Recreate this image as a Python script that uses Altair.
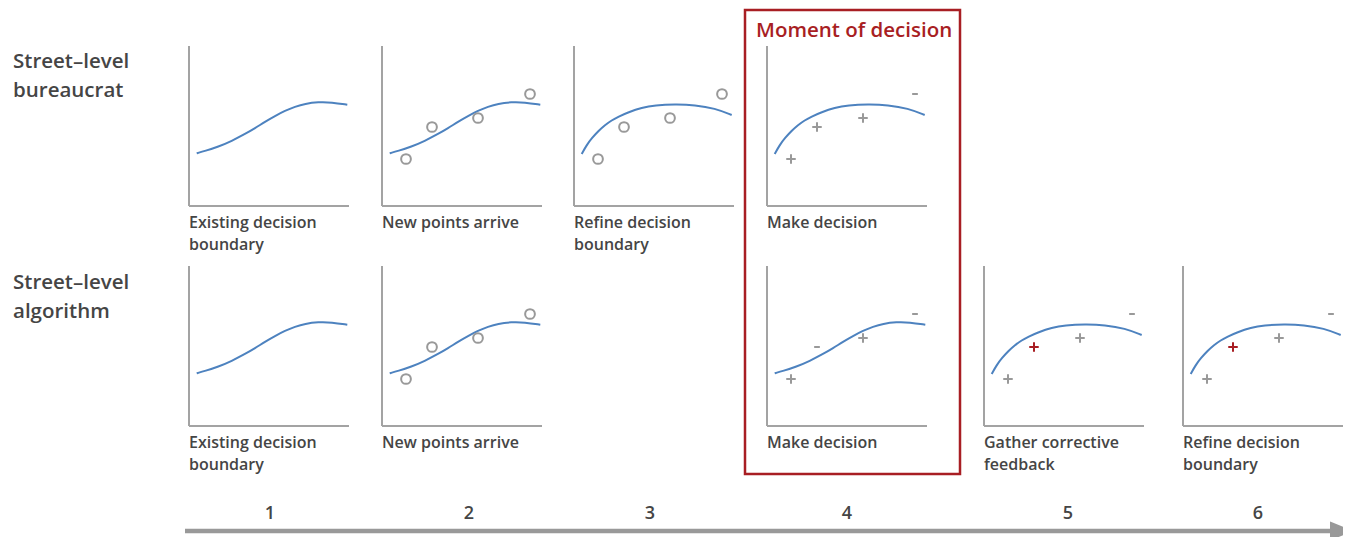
import altair as alt
import pandas as pd

# ---- data (local panel units: x from the y-axis, height above the x-axis) ----
curve_a_x = [7.7, 16, 29.3, 42.7, 56, 66, 76, 86, 96, 106, 116, 129.3, 142.7, 158.3]
curve_a_y = [52.7, 55, 59.3, 65, 72, 77.7, 84.3, 90, 95.3, 99.3, 102.3, 104, 103.7, 101.3]
curve_b_x = [7.7, 12.7, 17.7, 24.3, 31, 37.7, 44.3, 54.3, 67.7, 81, 101, 121, 141, 157.7]
curve_b_y = [52, 61, 67.7, 75, 81, 85.7, 89.3, 93.7, 98.3, 100.7, 101.7, 101, 97.7, 91]
point_x = [24, 50, 96, 148]
point_y = [47, 79, 88, 112]

panel_row = [1, 1, 1, 1, 2, 2, 2, 2, 2]
panel_step = [1, 2, 3, 4, 1, 2, 4, 5, 6]
panel_curve = ["A", "A", "B", "B", "A", "A", "A", "B", "B"]
panel_caption = [
    ["Existing decision", "boundary"],
    ["New points arrive"],
    ["Refine decision", "boundary"],
    ["Make decision"],
    ["Existing decision", "boundary"],
    ["New points arrive"],
    ["Make decision"],
    ["Gather corrective", "feedback"],
    ["Refine decision", "boundary"],
]
panel_marks = ["", "oooo", "oooo", "+++-", "", "oooo", "+-+-", "+R+-", "+R+-"]

row_labels = [["Street\u2013level", "bureaucrat"], ["Street\u2013level", "algorithm"]]
step_labels = ["1", "2", "3", "4", "5", "6"]
highlight_title = "Moment of decision"

# ---- layout (page pixels) ----
W, H = 1351, 537
step_origin_x = {1: 189, 2: 382, 3: 574, 4: 767, 5: 984, 6: 1183}
row_base_y = {1: 206, 2: 426}
row_label_y = {1: 68, 2: 289}
step_label_x = [270, 469, 650, 847, 1068, 1258]
PS = 160
FONT = "Open Sans"

TEXT = "#454545"
GREY = "#a3a3a3"
MGREY = "#999999"
BLUE = "#4d82bf"
RED = "#a81e23"

curve_rows, axis_rows, mark_rows, cap_rows = [], [], [], []
for i in range(len(panel_row)):
    ox = step_origin_x[panel_step[i]]
    by = row_base_y[panel_row[i]]
    cx, cy = (curve_a_x, curve_a_y) if panel_curve[i] == "A" else (curve_b_x, curve_b_y)
    for k, (a, b) in enumerate(zip(cx, cy)):
        curve_rows.append({"panel": i, "order": k, "x": ox + a, "y": by - b})
    axis_rows.append({"x": ox, "x2": ox, "y": by - PS, "y2": by})
    axis_rows.append({"x": ox, "x2": ox + PS, "y": by, "y2": by})
    for k, m in enumerate(panel_marks[i]):
        mark_rows.append({"kind": m, "x": ox + point_x[k], "y": by - point_y[k]})
    for j, line in enumerate(panel_caption[i]):
        cap_rows.append({"x": ox, "y": by + 22 + 22 * j, "text": line})

curves = pd.DataFrame(curve_rows)
axes_df = pd.DataFrame(axis_rows)
marks = pd.DataFrame(mark_rows)
caps = pd.DataFrame(cap_rows)

rl_rows = []
for r, lines in enumerate(row_labels, start=1):
    for j, t in enumerate(lines):
        rl_rows.append({"x": 13, "y": row_label_y[r] + 29 * j, "text": t})
rlab = pd.DataFrame(rl_rows)
steps = pd.DataFrame({"x": step_label_x, "y": [519] * 6, "text": step_labels})

xs = alt.Scale(domain=[8, W - 8], nice=False, zero=False)
ys = alt.Scale(domain=[8, H], nice=False, zero=False, reverse=True)
X = lambda f="x": alt.X(f"{f}:Q", scale=xs, axis=None)
Y = lambda f="y": alt.Y(f"{f}:Q", scale=ys, axis=None)

axes_layer = alt.Chart(axes_df).mark_rule(color=GREY, strokeWidth=2).encode(
    x=X(), x2="x2:Q", y=Y(), y2="y2:Q")

curve_layer = alt.Chart(curves).mark_line(color=BLUE, strokeWidth=2, interpolate="basis").encode(
    x=X(), y=Y(), detail="panel:N", order="order:Q")

circles = alt.Chart(marks[marks.kind == "o"]).mark_point(
    shape="circle", filled=False, stroke=MGREY, strokeWidth=2, size=95, opacity=1).encode(x=X(), y=Y())
pluses = alt.Chart(marks[marks.kind == "+"]).mark_point(
    shape="M-1,0L1,0M0,-1L0,1", filled=False, stroke=MGREY, strokeWidth=2, size=90, opacity=1).encode(x=X(), y=Y())
red_pluses = alt.Chart(marks[marks.kind == "R"]).mark_point(
    shape="M-1,0L1,0M0,-1L0,1", filled=False, stroke=RED, strokeWidth=2, size=90, opacity=1).encode(x=X(), y=Y())
minuses = alt.Chart(marks[marks.kind == "-"]).mark_point(
    shape="M-0.6,0L0.6,0", filled=False, stroke=MGREY, strokeWidth=2, size=90, opacity=1).encode(x=X(), y=Y())

cap_layer = alt.Chart(caps).mark_text(
    align="left", baseline="alphabetic", font=FONT, fontWeight=600, fontSize=16, color=TEXT).encode(
    x=X(), y=Y(), text="text:N")

row_layer = alt.Chart(rlab).mark_text(
    align="left", baseline="alphabetic", font=FONT, fontWeight=600, fontSize=20.5, color=TEXT).encode(
    x=X(), y=Y(), text="text:N")

step_layer = alt.Chart(steps).mark_text(
    align="center", baseline="alphabetic", font=FONT, fontWeight=600, fontSize=18, color=TEXT).encode(
    x=X(), y=Y(), text="text:N")

box = pd.DataFrame({"x": [745], "x2": [960], "y": [10], "y2": [474]})
box_layer = alt.Chart(box).mark_rect(fill="white", fillOpacity=0, stroke=RED, strokeWidth=2.5).encode(
    x=X(), x2="x2:Q", y=Y(), y2="y2:Q")

title_df = pd.DataFrame({"x": [756], "y": [37], "text": [highlight_title]})
title_layer = alt.Chart(title_df).mark_text(
    align="left", baseline="alphabetic", font=FONT, fontWeight=600, fontSize=20.5, color=RED).encode(
    x=X(), y=Y(), text="text:N")

arrow = pd.DataFrame({"x": [185], "x2": [1334], "y": [531]})
arrow_line = alt.Chart(arrow).mark_rule(color=MGREY, strokeWidth=4.5).encode(x=X(), x2="x2:Q", y=Y())
head = pd.DataFrame({"x": [1341], "y": [531]})
arrow_head = alt.Chart(head).mark_point(
    shape="M-1,-0.8L1,0L-1,0.8Z", filled=True, fill=MGREY, stroke=MGREY, size=400, opacity=1).encode(x=X(), y=Y())

chart = alt.layer(
    box_layer, axes_layer, curve_layer, circles, pluses, red_pluses, minuses,
    cap_layer, row_layer, step_layer, title_layer, arrow_line, arrow_head
).properties(
    width=W - 16, height=H - 8, padding=0, autosize=alt.AutoSizeParams(type="none")
).configure_view(strokeWidth=0)

chart.save("out.html", embed_options={"renderer": "svg", "actions": False})
